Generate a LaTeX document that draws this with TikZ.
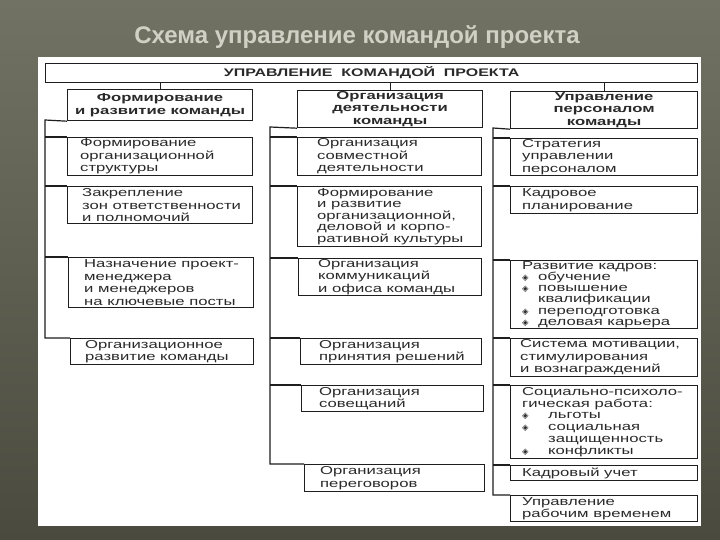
\documentclass[tikz,border=0pt]{standalone}
\usepackage{fontspec}
\setmainfont{Liberation Sans}
\newfontfamily\bodyf[FakeStretch=1.45]{Liberation Sans}
\newfontfamily\dejavu{DejaVu Sans}
\newfontfamily\titlef{Liberation Sans}
\definecolor{ink}{HTML}{1E1E1E}
\definecolor{txt}{HTML}{2A2A2A}
\definecolor{bgtop}{HTML}{727264}
\definecolor{bgbot}{HTML}{4A4A3E}
\definecolor{titlec}{HTML}{D0D0C4}
\newcommand\bulmark{{\dejavu\fontsize{8.5}{9}\selectfont ◈}}
\newcommand\blt{\makebox[16pt][l]{\bulmark}}
\newcommand\bltw{\makebox[26pt][l]{\bulmark}}
\tikzset{
  ln/.style={draw=ink, line width=1.2pt},
  frame/.style={ln, fill=white, anchor=north west, inner sep=0pt},
  head/.style={frame, align=center, text=txt, font=\bodyf\bfseries\fontsize{11.5}{12.5}\selectfont},
  tx/.style={anchor=west, align=left, inner sep=0pt, text=txt, font=\bodyf\fontsize{11.5}{12.5}\selectfont},
}
\begin{document}
\begin{tikzpicture}[x=1pt,y=-1pt]
\useasboundingbox (0,0) rectangle (720,540);
\shade[top color=bgtop, bottom color=bgbot] (0,0) rectangle (720,540);
\fill[white] (38,57) rectangle (701,526);
\node[font=\titlef\bfseries\fontsize{24}{28}\selectfont, text=titlec] (title) at (357,37) {Схема управление командой проекта};

% top box and headers
\node[head, font=\bodyf\bfseries\fontsize{11}{12}\selectfont, minimum width=652pt, minimum height=19pt] (top) at (45,63) {УПРАВЛЕНИЕ\ \ КОМАНДОЙ\ \ ПРОЕКТА};
\node[head, minimum width=185pt, minimum height=31pt] (H1) at (67,89) {Формирование\\и развитие команды};
\node[head, minimum width=185pt, minimum height=37pt] (H2) at (297,90) {Организация\\деятельности\\команды};
\node[head, minimum width=187pt, minimum height=37pt] (H3) at (510,91) {Управление\\персоналом\\команды};
\draw[ln] (H1.north |- top.south) -- (H1.north);
\draw[ln] (H2.north |- top.south) -- (H2.north);
\draw[ln] (H3.north |- top.south) -- (H3.north);

% left column
\node[frame, minimum width=185pt, minimum height=38pt] (L1) at (67,137) {};
\node[tx] (L1t) at ([xshift=13pt]L1.west) {Формирование\\организационной\\структуры};
\node[frame, minimum width=185pt, minimum height=37pt] (L2) at (67,186) {};
\node[tx] (L2t) at ([xshift=15pt]L2.west) {Закрепление\\зон ответственности\\и полномочий};
\node[frame, minimum width=185pt, minimum height=50pt] (L3) at (68,257) {};
\node[tx] (L3t) at ([xshift=16pt]L3.west) {Назначение проект-\\менеджера\\и менеджеров\\на ключевые посты};
\node[frame, minimum width=183pt, minimum height=26pt] (L4) at (70,338) {};
\node[tx] (L4t) at ([xshift=15pt]L4.west) {Организационное\\развитие команды};
\coordinate (lb) at (45,120);
\draw[ln] (H1.south west) -- (lb) -- (lb |- L4.north west) -- (L4.north west);
\draw[ln] (lb |- L1.north west) -- (L1.north west);
\draw[ln] (lb |- L2.north west) -- (L2.north west);
\draw[ln] (lb |- L3.north west) -- (L3.north west);

% middle column
\node[frame, minimum width=184pt, minimum height=38pt] (M1) at (297,137) {};
\node[tx] (M1t) at ([xshift=20pt]M1.west) {Организация\\совместной\\деятельности};
\node[frame, minimum width=184pt, minimum height=60pt] (M2) at (297,186) {};
\node[tx, font=\bodyf\fontsize{11.5}{11.6}\selectfont] (M2t) at ([xshift=20pt]M2.west) {Формирование\\и развитие\\организационной,\\деловой и корпо-\\ративной культуры};
\node[frame, minimum width=183pt, minimum height=37pt] (M3) at (298,258) {};
\node[tx] (M3t) at ([xshift=20pt]M3.west) {Организация\\коммуникаций\\и офиса команды};
\node[frame, minimum width=181pt, minimum height=26pt] (M4) at (300,338) {};
\node[tx] (M4t) at ([xshift=19pt]M4.west) {Организация\\принятия решений};
\node[frame, minimum width=182pt, minimum height=26pt] (M5) at (301,385) {};
\node[tx] (M5t) at ([xshift=18pt]M5.west) {Организация\\совещаний};
\node[frame, minimum width=180pt, minimum height=27pt] (M6) at (304,464) {};
\node[tx] (M6t) at ([xshift=16pt]M6.west) {Организация\\переговоров};
\coordinate (mb) at (270,127);
\draw[ln] (H2.south west) -- (mb) -- (mb |- M6.north west) -- (M6.north west);
\draw[ln] (mb |- M1.north west) -- (M1.north west);
\draw[ln] (mb |- M2.north west) -- (M2.north west);
\draw[ln] (mb |- M3.north west) -- (M3.north west);
\draw[ln] (mb |- M4.north west) -- (M4.north west);
\draw[ln] (mb |- M5.north west) -- (M5.north west);

% right column
\node[frame, minimum width=187pt, minimum height=37pt] (R1) at (510,138) {};
\node[tx] (R1t) at ([xshift=12pt]R1.west) {Стратегия\\управлении\\персоналом};
\node[frame, minimum width=187pt, minimum height=27pt] (R2) at (510,186) {};
\node[tx] (R2t) at ([xshift=12pt]R2.west) {Кадровое\\планирование};
\node[frame, minimum width=187pt, minimum height=68pt] (R3) at (510,260) {};
\node[tx, font=\bodyf\fontsize{11.5}{11.2}\selectfont] (R3t) at ([xshift=12pt]R3.west) {Развитие кадров:\\\blt обучение\\\blt повышение\\\hspace*{16pt}квалификации\\\blt переподготовка\\\blt деловая карьера};
\node[frame, minimum width=187pt, minimum height=38pt] (R4) at (510,338) {};
\node[tx] (R4t) at ([xshift=10pt]R4.west) {Система мотивации,\\стимулирования\\и вознаграждений};
\node[frame, minimum width=187pt, minimum height=73pt] (R5) at (510,385) {};
\node[tx, font=\bodyf\fontsize{11.5}{11.9}\selectfont] (R5t) at ([xshift=12pt]R5.west) {Социально-психоло-\\гическая работа:\\\bltw льготы\\\bltw социальная\\\hspace*{26pt}защищенность\\\bltw конфликты};
\node[frame, minimum width=187pt, minimum height=15pt] (R6) at (510,465) {};
\node[tx] (R6t) at ([xshift=12pt]R6.west) {Кадровый учет};
\node[frame, minimum width=187pt, minimum height=26pt] (R7) at (510,495) {};
\node[tx] (R7t) at ([xshift=12pt]R7.west) {Управление\\рабочим временем};
\coordinate (rb) at (493,128);
\draw[ln] (H3.south west) -- (rb) -- (rb |- R7.north west) -- (R7.north west);
\draw[ln] (rb |- R1.north west) -- (R1.north west);
\draw[ln] (rb |- R2.north west) -- (R2.north west);
\draw[ln] (rb |- R3.north west) -- (R3.north west);
\draw[ln] (rb |- R4.north west) -- (R4.north west);
\draw[ln] (rb |- R5.north west) -- (R5.north west);
\draw[ln] (rb |- R6.north west) -- (R6.north west);
\end{tikzpicture}
\end{document}
